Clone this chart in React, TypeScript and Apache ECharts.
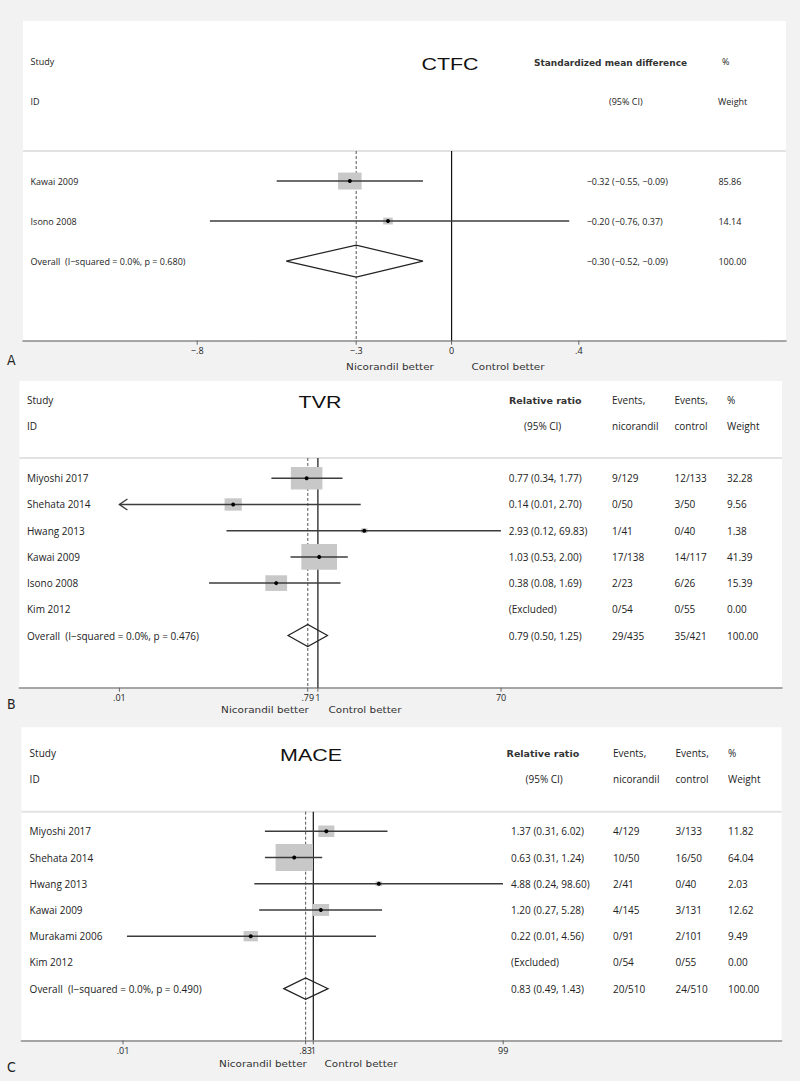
import React, { useEffect, useRef } from "react";
import * as echarts from "echarts";

// ---------------- Panel A: CTFC (standardized mean difference) ----------------
const ctfcStudies = ["Kawai 2009", "Isono 2008", "Overall  (I−squared = 0.0%, p = 0.680)"];
const ctfcEst = [-0.32, -0.2, -0.3];
const ctfcLower = [-0.55, -0.76, -0.52];
const ctfcUpper = [-0.09, 0.37, -0.09];
const ctfcWeight = [85.86, 14.14, 100.0];
const ctfcTicks = [-0.8, -0.3, 0, 0.4];
const ctfcTickLabels = ["−.8", "−.3", "0", ".4"];
const ctfcPooled = -0.3;
const ctfcNull = 0;

// ---------------- Panel B: TVR (relative ratio) ----------------
const tvrStudies = ["Miyoshi 2017", "Shehata 2014", "Hwang 2013", "Kawai 2009", "Isono 2008", "Kim 2012", "Overall  (I−squared = 0.0%, p = 0.476)"];
const tvrEst = [0.77, 0.14, 2.93, 1.03, 0.38, null, 0.79];
const tvrLower = [0.34, 0.01, 0.12, 0.53, 0.08, null, 0.5];
const tvrUpper = [1.77, 2.7, 69.83, 2.0, 1.69, null, 1.25];
const tvrEventsNic = ["9/129", "0/50", "1/41", "17/138", "2/23", "0/54", "29/435"];
const tvrEventsCtrl = ["12/133", "3/50", "0/40", "14/117", "6/26", "0/55", "35/421"];
const tvrWeight = [32.28, 9.56, 1.38, 41.39, 15.39, 0.0, 100.0];
const tvrTicks = [0.01, 0.79, 1, 70];
const tvrTickLabels = [".01", ".79", "1", "70"];
const tvrPooled = 0.791;
const tvrNull = 1;

// ---------------- Panel C: MACE (relative ratio) ----------------
const maceStudies = ["Miyoshi 2017", "Shehata 2014", "Hwang 2013", "Kawai 2009", "Murakami 2006", "Kim 2012", "Overall  (I−squared = 0.0%, p = 0.490)"];
const maceEst = [1.37, 0.63, 4.88, 1.2, 0.22, null, 0.83];
const maceLower = [0.31, 0.31, 0.24, 0.27, 0.011, null, 0.49];
const maceUpper = [6.02, 1.24, 98.6, 5.28, 4.56, null, 1.43];
const maceEventsNic = ["4/129", "10/50", "2/41", "4/145", "0/91", "0/54", "20/510"];
const maceEventsCtrl = ["3/133", "16/50", "0/40", "3/131", "2/101", "0/55", "24/510"];
const maceWeight = [11.82, 64.04, 2.03, 12.62, 9.49, 0.0, 100.0];
const maceTicks = [0.01, 0.83, 1, 99];
const maceTickLabels = [".01", ".83", "1", "99"];
const macePooled = 0.831;
const maceNull = 1;

const ROW_FONT = '"Open Sans", "Liberation Sans", sans-serif';
const HEAD_FONT = '"DejaVu Sans", "Liberation Sans", sans-serif';
const TITLE_FONT = '"Liberation Sans", Arial, sans-serif';
const LETTER_FONT = '"Liberation Sans Narrow", "DejaVu Sans Condensed", "Open Sans", sans-serif';

type PanelCfg = {
  studies: string[];
  est: (number | null)[];
  lower: (number | null)[];
  upper: (number | null)[];
  weight: number[];
  nic?: string[];
  ctrl?: string[];
  ticks: number[];
  tickLabels: string[];
  pooled: number;
  nullValue: number;
  log: boolean;
  left: number;
  top: number;
  right: number;
  bottom: number;
  xMin: number;
  xMax: number;
  yMin: number;
  yMax: number;
  sepRow: number;
  boxK: number;
  diamondH: number;
  fontSize: number;
  cols: { study: number; ci: number; nic?: number; ctrl?: number; weight: number };
};

const panels: PanelCfg[] = [
  {
    studies: ctfcStudies, est: ctfcEst, lower: ctfcLower, upper: ctfcUpper, weight: ctfcWeight,
    ticks: ctfcTicks, tickLabels: ctfcTickLabels, pooled: ctfcPooled, nullValue: ctfcNull, log: false,
    left: 23, top: 21, right: 786, bottom: 340.7, xMin: -1.3478, xMax: 1.0516, yMin: -4, yMax: 3.99,
    sepRow: -0.75, boxK: 2.54, diamondH: 0.4, fontSize: 9,
    cols: { study: 30.6, ci: 586.7, weight: 718.4 },
  },
  {
    studies: tvrStudies, est: tvrEst, lower: tvrLower, upper: tvrUpper, weight: tvrWeight,
    nic: tvrEventsNic, ctrl: tvrEventsCtrl,
    ticks: tvrTicks, tickLabels: tvrTickLabels, pooled: tvrPooled, nullValue: tvrNull, log: true,
    left: 19.4, top: 381, right: 782, bottom: 687.7, xMin: -3.0076, xMax: 4.676, yMin: -3.71, yMax: 7.99,
    sepRow: -0.774, boxK: 5.55, diamondH: 0.42, fontSize: 10,
    cols: { study: 27, ci: 508.7, nic: 612, ctrl: 674.5, weight: 727 },
  },
  {
    studies: maceStudies, est: maceEst, lower: maceLower, upper: maceUpper, weight: maceWeight,
    nic: maceEventsNic, ctrl: maceEventsCtrl,
    ticks: maceTicks, tickLabels: maceTickLabels, pooled: macePooled, nullValue: maceNull, log: true,
    left: 21.4, top: 727.3, right: 781.6, bottom: 1040.3, xMin: -3.068, xMax: 4.922, yMin: -3.965, yMax: 7.97,
    sepRow: -0.747, boxK: 4.65, diamondH: 0.41, fontSize: 10,
    cols: { study: 29.6, ci: 511, nic: 613, ctrl: 675.5, weight: 728 },
  },
];

const fmt = (v: number) => (v < 0 ? "−" : "") + Math.abs(v).toFixed(2);

function textEl(x: number, y: number, text: string, font: string, align = "left", extra: any = {}, fill = "#222") {
  return {
    type: "text",
    x,
    y,
    ...extra,
    style: {
      text,
      font,
      fill,
      align,
      textAlign: align,
      verticalAlign: "middle",
      textVerticalAlign: "middle",
    },
  };
}

function buildOption() {
  const grid: any[] = [];
  const xAxis: any[] = [];
  const yAxis: any[] = [];
  const series: any[] = [];

  panels.forEach((p, g) => {
    const T = p.log ? (v: number) => Math.log10(v) : (v: number) => v;
    grid.push({
      left: p.left,
      top: p.top,
      width: p.right - p.left,
      height: p.bottom - p.top,
      show: true,
      backgroundColor: "#ffffff",
      borderWidth: 0,
    });
    xAxis.push({
      gridIndex: g,
      type: "value",
      min: p.xMin,
      max: p.xMax,
      axisLine: { show: true, onZero: false, lineStyle: { color: "#8a8a8a", width: 1.5 } },
      axisTick: { show: false },
      axisLabel: { show: false },
      splitLine: { show: false },
    });
    yAxis.push({ gridIndex: g, type: "value", inverse: true, min: p.yMin, max: p.yMax, show: false });

    // separator under header
    series.push({
      type: "line", xAxisIndex: g, yAxisIndex: g, silent: true, symbol: "none", z: 1,
      data: [[p.xMin, p.sepRow], [p.xMax, p.sepRow]],
      lineStyle: { color: "#e2e2e2", width: 2 },
    });
    // null line
    series.push({
      type: "line", xAxisIndex: g, yAxisIndex: g, silent: true, symbol: "none", z: 2,
      data: [[T(p.nullValue), p.sepRow], [T(p.nullValue), p.yMax]],
      lineStyle: { color: "#111", width: 1.2 },
    });
    // pooled estimate dashed line
    series.push({
      type: "line", xAxisIndex: g, yAxisIndex: g, silent: true, symbol: "none", z: 2,
      data: [[T(p.pooled), p.sepRow], [T(p.pooled), p.yMax]],
      lineStyle: { color: "#555", width: 1, type: [3, 2] },
    });

    // rows
    series.push({
      type: "custom", xAxisIndex: g, yAxisIndex: g, clip: false, silent: true, z: 5,
      data: p.studies.map((_, i) => [p.est[i] == null ? 0 : T(p.est[i] as number), i]),
      encode: { x: 0, y: 1 },
      renderItem: (params: any, api: any) => {
        const i = params.dataIndex;
        const font = `${p.fontSize}px ${ROW_FONT}`;
        const yPix = api.coord([p.xMin, i])[1];
        const children: any[] = [];
        const isOverall = i === p.studies.length - 1;
        const e = p.est[i];
        const lo = p.lower[i];
        const hi = p.upper[i];
        if (e != null && lo != null && hi != null) {
          const c = api.coord([T(e), i]);
          const a = api.coord([T(lo), i]);
          const b = api.coord([T(hi), i]);
          if (isOverall) {
            const t = api.coord([T(e), i - p.diamondH]);
            const btm = api.coord([T(e), i + p.diamondH]);
            children.push({
              type: "polygon",
              shape: { points: [a, t, b, btm] },
              style: { fill: "none", stroke: "#222", lineWidth: 1.2 },
            });
          } else {
            const w = p.boxK * Math.sqrt(p.weight[i]);
            const h = w * 0.72;
            children.push({
              type: "rect",
              shape: { x: c[0] - w / 2, y: c[1] - h / 2, width: w, height: h },
              style: { fill: "#c8c8c8" },
            });
            children.push({
              type: "line",
              shape: { x1: a[0], y1: a[1], x2: b[0], y2: b[1] },
              style: { stroke: "#3c3c3c", lineWidth: 1.5 },
            });
            if (lo <= p.ticks[0]) {
              children.push({
                type: "polyline",
                shape: { points: [[a[0] + 8, a[1] - 5.5], [a[0], a[1]], [a[0] + 8, a[1] + 5.5]] },
                style: { stroke: "#3c3c3c", lineWidth: 1.4, fill: "none" },
              });
            }
            children.push({ type: "circle", shape: { cx: c[0], cy: c[1], r: 2 }, style: { fill: "#000" } });
          }
        }
        children.push(textEl(p.cols.study, yPix, p.studies[i], font));
        const ciText = e == null || lo == null || hi == null ? "(Excluded)" : `${fmt(e)} (${fmt(lo)}, ${fmt(hi)})`;
        children.push(textEl(p.cols.ci, yPix, ciText, font));
        if (p.nic && p.cols.nic != null) children.push(textEl(p.cols.nic, yPix, p.nic[i], font));
        if (p.ctrl && p.cols.ctrl != null) children.push(textEl(p.cols.ctrl, yPix, p.ctrl[i], font));
        children.push(textEl(p.cols.weight, yPix, p.weight[i].toFixed(2), font));
        return { type: "group", children };
      },
    });

    // axis ticks + labels
    series.push({
      type: "custom", xAxisIndex: g, yAxisIndex: g, clip: false, silent: true, z: 6,
      data: p.ticks.map((v) => [T(v), p.yMax]),
      encode: { x: 0, y: 1 },
      renderItem: (params: any, api: any) => {
        const i = params.dataIndex;
        const pt = api.coord([T(p.ticks[i]), p.yMax]);
        return {
          type: "group",
          children: [
            { type: "line", shape: { x1: pt[0], y1: pt[1], x2: pt[0], y2: pt[1] + 4 }, style: { stroke: "#666", lineWidth: 1 } },
            textEl(pt[0], pt[1] + 10, p.tickLabels[i], `9px ${ROW_FONT}`, "center"),
          ],
        };
      },
    });
  });

  const headFont = (s: number) => `${s}px ${ROW_FONT}`;
  const bold = `bold 9.5px ${HEAD_FONT}`;
  const betterFont = `9.5px ${HEAD_FONT}`;
  const better = { scaleX: 1.1 };
  const titleFont = `16px ${TITLE_FONT}`;
  const letterFont = `14px ${LETTER_FONT}`;

  const graphic: any[] = [
    // Panel A header
    textEl(30.6, 61, "Study", headFont(9)),
    textEl(30.6, 101, "ID", headFont(9)),
    textEl(450, 65, "CTFC", titleFont, "center", { scaleX: 1.34 }, "#111"),
    textEl(534, 63, "Standardized mean difference", `bold 9px ${HEAD_FONT}`, "left", {}, "#333"),
    textEl(722, 61, "%", headFont(9)),
    textEl(609, 101, "(95% CI)", headFont(9)),
    textEl(718, 101, "Weight", headFont(9)),
    textEl(390, 367, "Nicorandil better", betterFont, "center", better, "#333"),
    textEl(508, 367, "Control better", betterFont, "center", better, "#333"),
    textEl(7, 360, "A", letterFont),
    // Panel B header
    textEl(27, 400, "Study", headFont(10)),
    textEl(27, 426, "ID", headFont(10)),
    textEl(320, 403, "TVR", titleFont, "center", { scaleX: 1.34 }, "#111"),
    textEl(509, 400, "Relative ratio", bold, "left", {}, "#333"),
    textEl(612, 400, "Events,", headFont(10)),
    textEl(674.5, 400, "Events,", headFont(10)),
    textEl(727, 400, "%", headFont(10)),
    textEl(524, 426, "(95% CI)", headFont(10)),
    textEl(612, 426, "nicorandil", headFont(10)),
    textEl(674.5, 426, "control", headFont(10)),
    textEl(727, 426, "Weight", headFont(10)),
    textEl(265, 709.5, "Nicorandil better", betterFont, "center", better, "#333"),
    textEl(365, 709.5, "Control better", betterFont, "center", better, "#333"),
    textEl(7, 704, "B", letterFont),
    // Panel C header
    textEl(29.6, 753.3, "Study", headFont(10)),
    textEl(29.6, 779.3, "ID", headFont(10)),
    textEl(311, 756, "MACE", titleFont, "center", { scaleX: 1.34 }, "#111"),
    textEl(506.6, 753.3, "Relative ratio", bold, "left", {}, "#333"),
    textEl(613, 753.3, "Events,", headFont(10)),
    textEl(675.5, 753.3, "Events,", headFont(10)),
    textEl(728, 753.3, "%", headFont(10)),
    textEl(525.5, 779.3, "(95% CI)", headFont(10)),
    textEl(613, 779.3, "nicorandil", headFont(10)),
    textEl(675.5, 779.3, "control", headFont(10)),
    textEl(728, 779.3, "Weight", headFont(10)),
    textEl(263, 1063.7, "Nicorandil better", betterFont, "center", better, "#333"),
    textEl(361, 1063.7, "Control better", betterFont, "center", better, "#333"),
    textEl(7, 1067, "C", letterFont),
  ];

  return {
    animation: false,
    backgroundColor: "#f2f2f2",
    grid,
    xAxis,
    yAxis,
    series,
    graphic: { elements: graphic },
  };
}

export default function App() {
  const ref = useRef<HTMLDivElement>(null);
  useEffect(() => {
    if (!ref.current) return;
    const chart = echarts.init(ref.current, null, { renderer: "svg" });
    chart.setOption(buildOption() as any);
    return () => chart.dispose();
  }, []);
  return <div ref={ref} style={{ position: "absolute", left: 0, top: 0, width: 800, height: 1081 }} />;
}
